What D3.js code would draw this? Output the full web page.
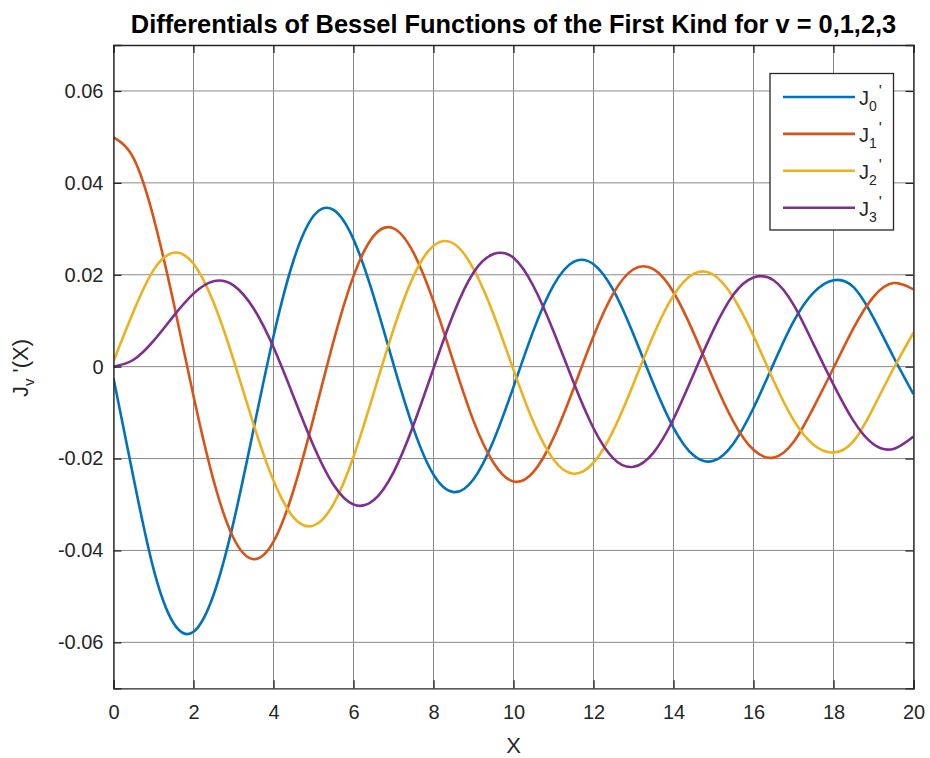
<!DOCTYPE html>
<html>
<head>
<meta charset="utf-8">
<script src="https://cdn.jsdelivr.net/npm/d3@7"></script>
<style>
  html, body { margin: 0; padding: 0; background: #fff; }
  svg { display: block; font-family: "Liberation Sans", Arial, sans-serif; }
</style>
</head>
<body>
<svg id="chart" width="930" height="758"></svg>
<script>
// ---- data ----
const xValues = [0,0.5,1,1.5,2,2.5,3,3.5,4,4.5,5,5.5,6,6.5,7,7.5,8,8.5,9,9.5,10,
                 10.5,11,11.5,12,12.5,13,13.5,14,14.5,15,15.5,16,16.5,17,17.5,18,18.5,19,19.5,20];
const dJ0 = [-0.0025,-0.0242,-0.0440,-0.0558,-0.0577,-0.0497,-0.0339,-0.0137,0.0066,0.0231,0.0328,
             0.0341,0.0277,0.0154,0.0005,-0.0135,-0.0235,-0.0273,-0.0245,-0.0161,-0.0044,
             0.0079,0.0177,0.0228,0.0223,0.0166,0.0070,-0.0038,-0.0133,-0.0193,-0.0205,
             -0.0167,-0.0090,0.0006,0.0098,0.0161,0.0188,0.0173,0.0106,0.0021,-0.0060];
const dJ1 = [0.0499,0.0454,0.0325,0.0140,-0.0064,-0.0247,-0.0373,-0.0419,-0.0381,-0.0269,-0.0112,
             0.0055,0.0197,0.0284,0.0301,0.0248,0.0142,0.0010,-0.0118,-0.0209,-0.0250,
             -0.0229,-0.0155,-0.0048,0.0066,0.0160,0.0212,0.0212,0.0162,0.0074,-0.0028,
             -0.0120,-0.0181,-0.0198,-0.0164,-0.0089,-0.0003,0.0084,0.0152,0.0182,0.0168];
const dJ2 = [0.0012,0.0120,0.0210,0.0248,0.0224,0.0140,0.0015,-0.0125,-0.0248,-0.0328,-0.0346,
             -0.0299,-0.0196,-0.0059,0.0081,0.0197,0.0263,0.0268,0.0213,0.0114,-0.0007,
             -0.0121,-0.0202,-0.0233,-0.0209,-0.0138,-0.0037,0.0069,0.0155,0.0202,0.0200,
             0.0150,0.0067,-0.0030,-0.0116,-0.0170,-0.0187,-0.0162,-0.0089,-0.0004,0.0074];
const dJ3 = [0.0000,0.0015,0.0056,0.0110,0.0159,0.0186,0.0177,0.0127,0.0042,-0.0065,-0.0172,
             -0.0257,-0.0300,-0.0291,-0.0230,-0.0127,-0.0004,0.0115,0.0205,0.0245,0.0237,
             0.0175,0.0077,-0.0034,-0.0134,-0.0200,-0.0218,-0.0187,-0.0114,-0.0017,0.0080,
             0.0157,0.0194,0.0188,0.0135,0.0049,-0.0039,-0.0118,-0.0169,-0.0179,-0.0152];
const seriesNames = ["0","1","2","3"];
const seriesColors = ["#0072BD","#D95319","#EDB120","#7E2F8E"];
const xTicks = [0,2,4,6,8,10,12,14,16,18,20];
const yTicks = [-0.06,-0.04,-0.02,0,0.02,0.04,0.06];
const titleText = "Differentials of Bessel Functions of the First Kind for v = 0,1,2,3";

// ---- layout ----
const svg = d3.select("#chart");
const L = 113.5, R = 913.5, T = 45, B = 688.3;
const x = d3.scaleLinear().domain([0, 20]).range([L, R]);
const y = d3.scaleLinear().domain([-0.07, 0.07]).range([B, T]);
const axisColor = "#262626";
const tickLen = 8;
const font = "'Liberation Sans', Arial, sans-serif";

// grid
const grid = svg.append("g");
grid.selectAll("line.gx").data(xTicks).join("line")
  .attr("x1", d => x(d)).attr("x2", d => x(d)).attr("y1", T).attr("y2", B)
  .attr("stroke", "#8a8a8a").attr("stroke-width", 1);
grid.selectAll("line.gy").data(yTicks).join("line")
  .attr("x1", L).attr("x2", R).attr("y1", d => y(d)).attr("y2", d => y(d))
  .attr("stroke", "#8a8a8a").attr("stroke-width", 1);

// lines
const allSeries = [dJ0, dJ1, dJ2, dJ3];
const line = d3.line().x((d, i) => x(xValues[i])).y(d => y(d)).curve(d3.curveNatural);
svg.append("defs").append("clipPath").attr("id", "clip")
  .append("rect").attr("x", L).attr("y", T).attr("width", R - L).attr("height", B - T);
svg.append("g").attr("clip-path", "url(#clip)")
  .selectAll("path").data(allSeries).join("path")
  .attr("d", d => line(d))
  .attr("fill", "none")
  .attr("stroke", (d, i) => seriesColors[i])
  .attr("stroke-width", 2.6)
  .attr("stroke-linejoin", "round");

// axes (ticks inside, all four sides)
const axB = d3.axisBottom(x).tickValues(xTicks).tickSize(-tickLen).tickPadding(17).tickFormat(d3.format("d"));
const axL = d3.axisLeft(y).tickValues(yTicks).tickSize(-tickLen).tickPadding(10)
  .tickFormat(d => d === 0 ? "0" : d3.format(".2f")(d).replace("\u2212", "-"));
const axT = d3.axisTop(x).tickValues(xTicks).tickSize(-tickLen).tickFormat("");
const axR = d3.axisRight(y).tickValues(yTicks).tickSize(-tickLen).tickFormat("");

function styleAxis(g) {
  g.select(".domain").attr("stroke", axisColor).attr("stroke-width", 1.3);
  g.selectAll(".tick line").attr("stroke", axisColor).attr("stroke-width", 1.3);
  g.selectAll(".tick text").attr("fill", axisColor).attr("font-size", 20)
    .attr("font-family", font);
}
svg.append("g").attr("transform", `translate(0,${B})`).call(axB).call(styleAxis);
svg.append("g").attr("transform", `translate(${L},0)`).call(axL).call(styleAxis);
svg.append("g").attr("transform", `translate(0,${T})`).call(axT).call(styleAxis);
svg.append("g").attr("transform", `translate(${R},0)`).call(axR).call(styleAxis);

// title
svg.append("text").attr("x", (L + R) / 2).attr("y", 33)
  .attr("text-anchor", "middle").attr("font-weight", "bold").attr("font-size", 25.4)
  .attr("fill", "#000").text(titleText);

// x label
svg.append("text").attr("x", (L + R) / 2).attr("y", 753)
  .attr("text-anchor", "middle").attr("font-size", 22).attr("fill", axisColor).text("X");

// y label
const yl = svg.append("text").attr("transform", `translate(28,368) rotate(-90)`)
  .attr("text-anchor", "middle").attr("font-size", 22).attr("fill", axisColor);
yl.append("tspan").text("J");
yl.append("tspan").attr("font-size", 15).attr("dy", 6).text("v");
yl.append("tspan").attr("dy", -6).text(" '(X)");

// legend
const lg = svg.append("g");
const lgX = 770, lgY = 73.5, lgW = 123.5, lgH = 156.5;
lg.append("rect").attr("x", lgX).attr("y", lgY).attr("width", lgW).attr("height", lgH)
  .attr("fill", "#fff").attr("stroke", axisColor).attr("stroke-width", 1.3);
const rowY = d3.scaleLinear().domain([0, 3]).range([lgY + 23.5, lgY + 134.2]);
seriesNames.forEach((n, i) => {
  const yy = rowY(i);
  lg.append("line").attr("x1", lgX + 13).attr("x2", lgX + 85).attr("y1", yy).attr("y2", yy)
    .attr("stroke", seriesColors[i]).attr("stroke-width", 2.6);
  const t = lg.append("text").attr("x", lgX + 89).attr("y", yy + 8)
    .attr("font-size", 20).attr("fill", axisColor).attr("font-family", font);
  t.append("tspan").text("J");
  t.append("tspan").attr("font-size", 14).attr("dy", 6).text(n);
  t.append("tspan").attr("font-size", 16).attr("dx", 2).attr("dy", -14).text("'");
});
</script>
</body>
</html>
